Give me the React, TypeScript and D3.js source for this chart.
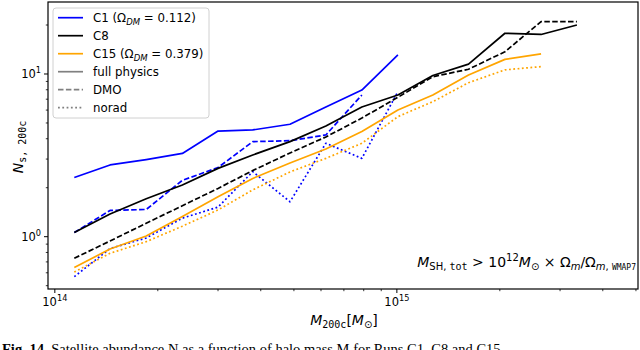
import React from 'react';
import * as d3 from 'd3';

// halo mass bins (units of 1e14 Msun)
const massBins = [1.14, 1.45, 1.85, 2.36, 3.0, 3.79, 4.87, 6.2, 7.9, 10.07, 12.74, 16.2, 20.7, 26.4, 33.6];

// satellite counts
const c1Full = [2.31, 2.76, 2.98, 3.25, 4.46, 4.53, 4.91, 6.27, 7.97, 13.1];
const c1Dmo = [1.06, 1.45, 1.47, 2.22, 2.66, 3.84, 3.89, 4.22, 7.43];
const c1Norad = [0.568, 0.846, 0.982, 1.3, 1.52, 2.51, 1.64, 3.75, 3.03, 7.79];
const c8Full = [1.06, 1.38, 1.71, 2.08, 2.63, 3.18, 3.84, 4.79, 6.27, 7.43, 9.79, 11.5, 17.8, 17.5, 20.0];
const c8Dmo = [0.737, 0.941, 1.21, 1.55, 1.98, 2.55, 3.27, 4.1, 5.36, 7.19, 9.62, 10.7, 13.7, 21.0, 21.0];
const c15Full = [0.647, 0.84, 1.01, 1.33, 1.76, 2.28, 2.84, 3.46, 4.43, 6.01, 7.43, 9.86, 12.3, 13.3];
const c15Norad = [0.607, 0.791, 0.932, 1.16, 1.46, 1.94, 2.5, 3.03, 3.75, 5.47, 6.76, 8.84, 10.6, 11.1];

const xMajor = [1e14, 1e15];
const xMajorExp = ['14', '15'];
const yMajor = [1, 10];
const yMajorExp = ['0', '1'];

const W = 640;
const H = 350;
const left = 48, right = 638, top = 2, bottom = 289;

const FONT = 'DejaVu Sans';
const MONO = 'DejaVu Sans Mono';

const x = d3.scaleLog().domain([Math.pow(10, 13.98), Math.pow(10, 15.705)]).range([left, right]);
const y = d3.scaleLog().domain([0.477, 27.7]).range([bottom, top]);

const dashStyle: Record<string, string | undefined> = {
  solid: undefined,
  dashed: '5.5,2.4',
  dotted: '1.8,2.5',
};

const series = [
  { vals: c1Full, color: '#0000ff', style: 'solid' },
  { vals: c1Dmo, color: '#0000ff', style: 'dashed' },
  { vals: c1Norad, color: '#0000ff', style: 'dotted' },
  { vals: c8Full, color: '#000000', style: 'solid' },
  { vals: c8Dmo, color: '#000000', style: 'dashed' },
  { vals: c15Full, color: '#ffa500', style: 'solid' },
  { vals: c15Norad, color: '#ffa500', style: 'dotted' },
];

function minorTicks(lo: number, hi: number, scale: d3.ScaleLogarithmic<number, number>) {
  const out: number[] = [];
  for (let e = lo; e <= hi; e++) {
    for (let m = 2; m <= 9; m++) {
      const v = m * Math.pow(10, e);
      const d = scale.domain();
      if (v >= d[0] && v <= d[1]) out.push(v);
    }
  }
  return out;
}

export default function App() {
  const line = d3
    .line<number>()
    .x((_, i) => x(massBins[i] * 1e14))
    .y((d) => y(d));

  const xMinor = minorTicks(13, 15, x);
  const yMinor = minorTicks(-1, 1, y);

  const legendRows = [
    { kind: 'c1', color: '#0000ff', dash: undefined },
    { kind: 'c8', color: '#000000', dash: undefined },
    { kind: 'c15', color: '#ffa500', dash: undefined },
    { kind: 'full physics', color: '#808080', dash: undefined },
    { kind: 'DMO', color: '#808080', dash: dashStyle.dashed },
    { kind: 'norad', color: '#808080', dash: dashStyle.dotted },
  ];

  const omegaLabel = (val: string) => (
    <>
      {' (Ω'}
      <tspan fontStyle="italic" fontSize={8.5} dy={3}>DM</tspan>
      <tspan dy={-3}>{' = ' + val + ')'}</tspan>
    </>
  );

  return (
    <svg width={W} height={H} style={{ position: 'absolute', left: 0, top: 0, background: '#fff' }} fontFamily={FONT}>
      <rect x={0} y={0} width={W} height={H} fill="#fff" />

      {/* data */}
      <g>
        {series.map((s, i) => (
          <path
            key={i}
            d={line(s.vals) || ''}
            fill="none"
            stroke={s.color}
            strokeWidth={1.7}
            strokeDasharray={dashStyle[s.style]}
            strokeLinejoin="round"
          />
        ))}
      </g>

      {/* frame */}
      <rect x={left} y={top} width={right - left} height={bottom - top} fill="none" stroke="#000" strokeWidth={1.2} />

      {/* x ticks */}
      {xMajor.map((v, i) => (
        <g key={'xm' + i}>
          <line x1={x(v)} x2={x(v)} y1={bottom} y2={bottom + 4} stroke="#000" />
          <text x={x(v)} y={306} fontSize={11.5} textAnchor="middle">
            10<tspan fontSize={8.2} dy={-5}>{xMajorExp[i]}</tspan>
          </text>
        </g>
      ))}
      {xMinor.map((v, i) => (
        <line key={'xn' + i} x1={x(v)} x2={x(v)} y1={bottom} y2={bottom + 2.2} stroke="#000" strokeWidth={0.8} />
      ))}

      {/* y ticks */}
      {yMajor.map((v, i) => (
        <g key={'ym' + i}>
          <line x1={left - 4} x2={left} y1={y(v)} y2={y(v)} stroke="#000" />
          <text x={41} y={y(v) + 4} fontSize={11.5} textAnchor="end">
            10<tspan fontSize={8.2} dy={-5}>{yMajorExp[i]}</tspan>
          </text>
        </g>
      ))}
      {yMinor.map((v, i) => (
        <line key={'yn' + i} x1={left - 2.2} x2={left} y1={y(v)} y2={y(v)} stroke="#000" strokeWidth={0.8} />
      ))}

      {/* axis labels */}
      <text x={344} y={325} fontSize={14} textAnchor="middle">
        <tspan fontStyle="italic">M</tspan>
        <tspan fontFamily={MONO} fontSize={10} dy={3}>200c</tspan>
        <tspan dy={-3}>[</tspan>
        <tspan fontStyle="italic">M</tspan>
        <tspan fontSize={10} dy={3}>⊙</tspan>
        <tspan dy={-3}>]</tspan>
      </text>
      <text transform="translate(23,147) rotate(-90)" fontSize={14} textAnchor="middle">
        <tspan fontStyle="italic">N</tspan>
        <tspan fontFamily={MONO} fontSize={10} dy={3}>s, 200c</tspan>
      </text>

      {/* annotation */}
      <text x={636} y={267} fontSize={14} textAnchor="end">
        <tspan fontStyle="italic">M</tspan>
        <tspan fontSize={10} dy={3}>SH, </tspan>
        <tspan fontSize={10} fontFamily={MONO}>tot</tspan>
        <tspan dy={-3}>{' > 10'}</tspan>
        <tspan fontSize={10} dy={-6}>12</tspan>
        <tspan fontStyle="italic" dy={6}>M</tspan>
        <tspan fontSize={10} dy={3}>⊙</tspan>
        <tspan dy={-3}>{' × Ω'}</tspan>
        <tspan fontSize={10} fontStyle="italic" dy={3}>m</tspan>
        <tspan dy={-3}>/Ω</tspan>
        <tspan fontSize={10} fontStyle="italic" dy={3}>m</tspan>
        <tspan fontSize={10}>, </tspan>
        <tspan fontSize={8} fontFamily={MONO}>WMAP7</tspan>
      </text>

      {/* legend */}
      <g>
        <rect x={53} y={8} width={156} height={110} rx={3} fill="#fff" fillOpacity={0.8} stroke="#d0d0d0" />
        {legendRows.map((r, i) => {
          const cy = 17.7 + i * 18;
          return (
            <g key={'lg' + i}>
              <line x1={58} x2={83} y1={cy} y2={cy} stroke={r.color} strokeWidth={1.7} strokeDasharray={r.dash} />
              <text x={93} y={cy + 4.3} fontSize={11.8}>
                {r.kind === 'c1' ? <>C1{omegaLabel('0.112')}</> : r.kind === 'c8' ? 'C8' : r.kind === 'c15' ? <>C15{omegaLabel('0.379')}</> : r.kind}
              </text>
            </g>
          );
        })}
      </g>

      {/* figure caption, cut by the bottom edge as in the source */}
      <text x={2} y={354} fontSize={14.5} fontFamily="Liberation Serif">
        <tspan fontWeight="bold">Fig. 14.</tspan>
        {' Satellite abundance  N  as a function of halo mass  M  for Runs C1, C8 and C15'}
      </text>
    </svg>
  );
}
